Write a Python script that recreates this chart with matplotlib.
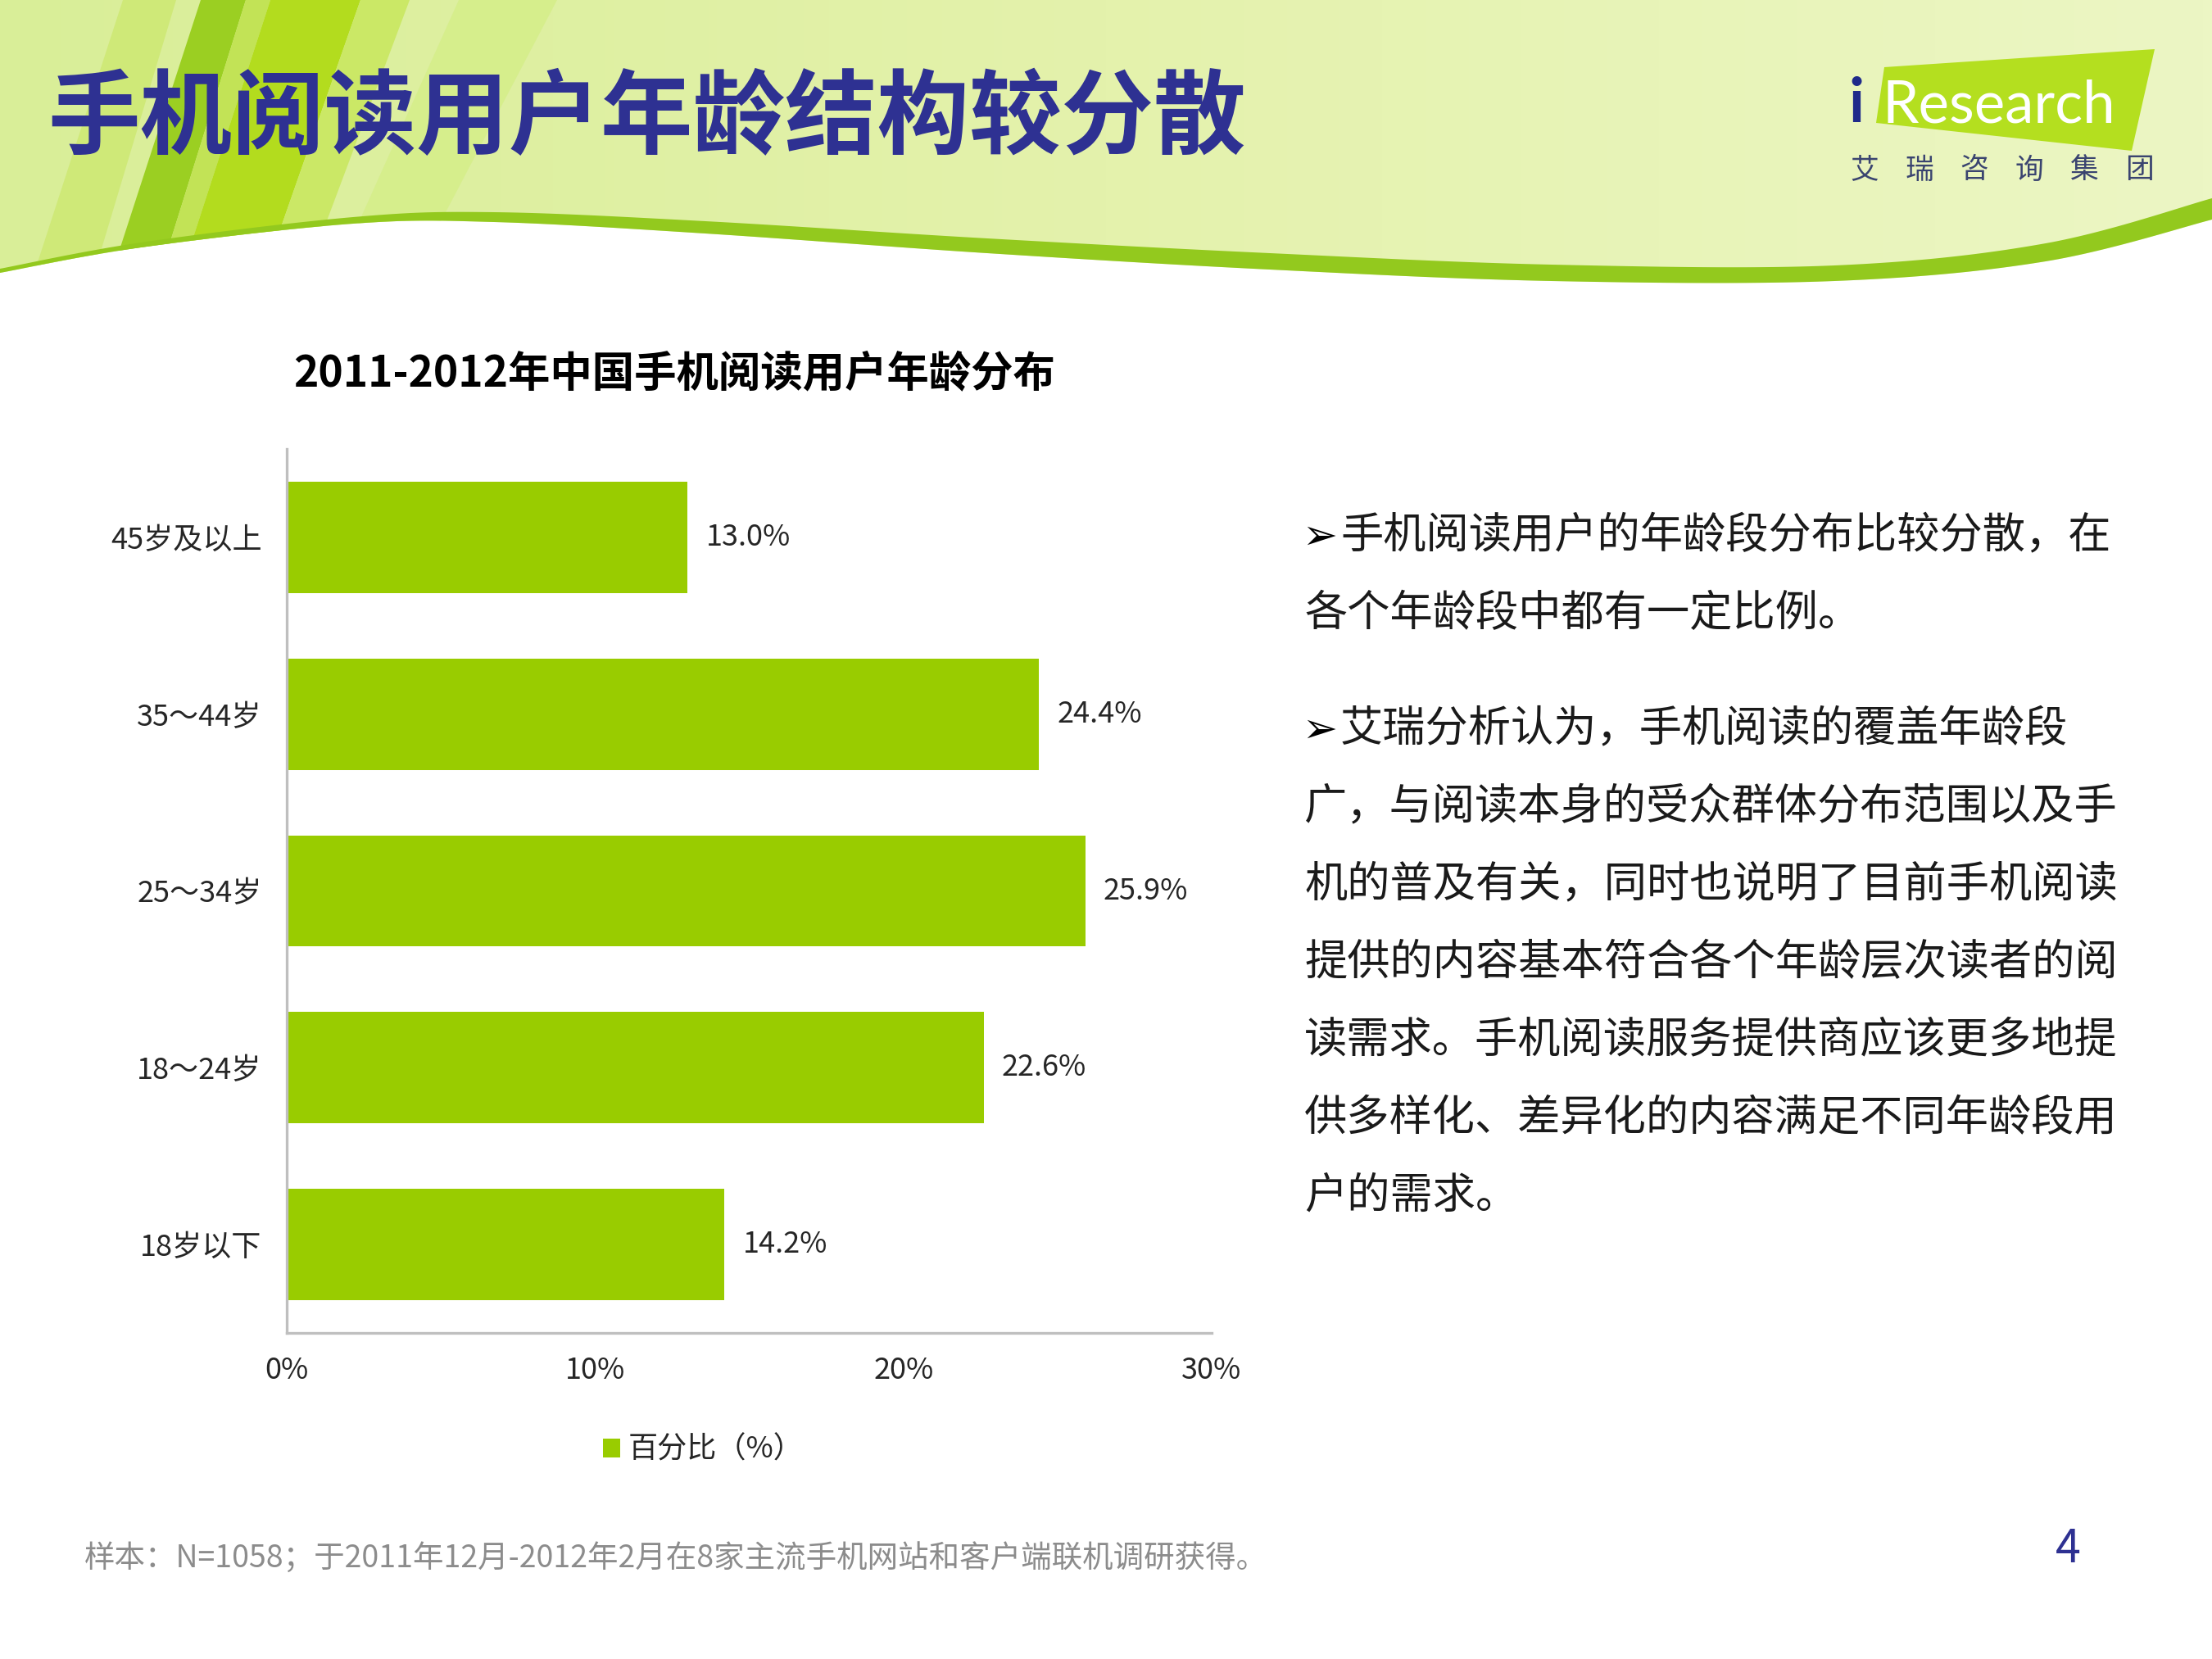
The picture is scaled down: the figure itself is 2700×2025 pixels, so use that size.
import matplotlib
matplotlib.use('Agg')

import numpy as np
import matplotlib.pyplot as plt
from matplotlib.patches import Polygon
from matplotlib.colors import LinearSegmentedColormap

plt.rcParams['font.family'] = ['Noto Sans CJK SC', 'DejaVu Sans']

# data, bottom to top as drawn
age_groups = ['18岁以下', '18～24岁', '25～34岁', '35～44岁', '45岁及以上']
share_pct = [14.2, 22.6, 25.9, 24.4, 13.0]
x_ticks = [0, 10, 20, 30]
x_tick_labels = ['0%', '10%', '20%', '30%']

slide_title = '手机阅读用户年龄结构较分散'
chart_title = '2011-2012年中国手机阅读用户年龄分布'
legend_label = '百分比（%）'
note_lines = [
    ['手机阅读用户的年龄段分布比较分散，在',
     '各个年龄段中都有一定比例。'],
    ['艾瑞分析认为，手机阅读的覆盖年龄段',
     '广，与阅读本身的受众群体分布范围以及手',
     '机的普及有关，同时也说明了目前手机阅读',
     '提供的内容基本符合各个年龄层次读者的阅',
     '读需求。手机阅读服务提供商应该更多地提',
     '供多样化、差异化的内容满足不同年龄段用',
     '户的需求。'],
]
source_note = '样本：N=1058；于2011年12月-2012年2月在8家主流手机网站和客户端联机调研获得。'
page_no = '4'

W, H = 2700, 2025
fig = plt.figure(figsize=(13.5, 10.125), dpi=200)
fig.patch.set_facecolor('white')


def smooth(pts, n=30):
    # catmull-rom through the given points
    p = np.array(pts, dtype=float)
    p = np.vstack([p[0], p, p[-1]])
    out = []
    for i in range(1, len(p) - 2):
        p0, p1, p2, p3 = p[i - 1], p[i], p[i + 1], p[i + 2]
        for t in np.linspace(0, 1, n, endpoint=False):
            t2, t3 = t * t, t * t * t
            out.append(0.5 * ((2 * p1) + (-p0 + p2) * t +
                              (2 * p0 - 5 * p1 + 4 * p2 - p3) * t2 +
                              (-p0 + 3 * p1 - 3 * p2 + p3) * t3))
    out.append(p[-2])
    return np.array(out)


# ---- slide background (pixel coordinates) ----
bg = fig.add_axes([0, 0, 1, 1], zorder=0)
bg.set_xlim(0, W)
bg.set_ylim(H, 0)
bg.axis('off')

edge = smooth([(0, 333), (172, 302), (431, 273), (603, 271), (861, 285),
               (1205, 309), (1550, 329), (1894, 343), (2239, 343),
               (2497, 319), (2700, 268)])
band_top = smooth([(0, 328), (172, 296), (431, 265), (603, 259), (861, 270),
                   (1205, 291), (1550, 309), (1894, 323), (2239, 324),
                   (2497, 297), (2700, 242)])

header = Polygon(np.vstack([[(0, 0), (W, 0)], edge[::-1]]), closed=True,
                 facecolor='none', edgecolor='none')
bg.add_patch(header)
grad = LinearSegmentedColormap.from_list('hdr', ['#d9ee98', '#e4f2ac', '#ecf6c4'])
im = bg.imshow(np.linspace(0, 1, 256)[None, :], cmap=grad, aspect='auto',
               extent=(0, W, 400, 0), zorder=0)
im.set_clip_path(header)

stripes = [
    ([(150, 0), (215, 0), (95, 400), (20, 400)], '#cfe978'),
    ([(245, 0), (300, 0), (175, 400), (115, 400)], '#9bcf22'),
    ([(300, 0), (330, 0), (200, 400), (175, 400)], '#c2e356'),
    ([(330, 0), (440, 0), (300, 400), (200, 400)], '#b3dc1e'),
    ([(440, 0), (500, 0), (350, 400), (300, 400)], '#cbe866'),
    ([(560, 0), (680, 0), (470, 400), (380, 400)], '#d6ee8c'),
]
for pts, col in stripes:
    s = Polygon(pts, closed=True, facecolor=col, edgecolor='none', zorder=1)
    bg.add_patch(s)
    s.set_clip_path(header)

band = Polygon(np.vstack([band_top, edge[::-1]]), closed=True,
               facecolor='#93c91e', edgecolor='none', zorder=2)
bg.add_patch(band)

# logo
bg.add_patch(Polygon([(2300, 82), (2630, 60), (2602, 184), (2290, 150)],
                     closed=True, facecolor='#b4df1f', edgecolor='none', zorder=3))
bg.text(2266, 149, 'i', fontsize=27, fontweight='bold', color='#1f2a8a',
        family=['Lato', 'DejaVu Sans'], ha='center', va='baseline', zorder=4)
bg.text(2298, 149, 'Research', fontsize=25.5, color='white',
        family=['Lato', 'DejaVu Sans'], ha='left', va='baseline', zorder=4)
for i, ch in enumerate('艾瑞咨询集团'):
    bg.text(2276 + i * 67, 208, ch, fontsize=12.5, color='#3a4470',
            ha='center', va='center', zorder=4)

bg.text(58, 146, slide_title, fontsize=40.5, fontweight='bold', color='#2e3192',
        ha='left', va='center', zorder=4)

bg.text(358, 456, chart_title, fontsize=18.5, fontweight='bold', color='black',
        ha='left', va='center')

# right-hand notes
y = 654
for para in note_lines:
    for k, line in enumerate(para):
        if k == 0:
            bg.text(1589, y + 2, '➢', fontsize=18.5, color='black',
                    family=['DejaVu Sans'], ha='left', va='center')
            bg.text(1636, y, line, fontsize=18.8, color='#1a1a1a',
                    ha='left', va='center')
        else:
            bg.text(1592, y, line, fontsize=18.8, color='#1a1a1a',
                    ha='left', va='center')
        y += 95
    y += 46

bg.text(103, 1903, source_note, fontsize=13.5, color='#8c8c8c',
        ha='left', va='center')
bg.text(2524, 1891, page_no, fontsize=20, color='#2e3192',
        ha='center', va='center')

# ---- bar chart ----
ax = fig.add_axes([350 / W, 1 - 1627 / H, 1129 / W, 1079 / H], zorder=1)
ax.patch.set_alpha(0)
pos = np.arange(len(age_groups))
bars = ax.barh(pos, share_pct, height=0.63, color='#99cc00', label=legend_label)
ax.bar_label(bars, labels=[f'{v:.1f}%' for v in share_pct], padding=8,
             fontsize=13, color='#262626')

ax.set_xlim(0, 30)
ax.set_ylim(-0.5, 4.5)
ax.set_xticks(x_ticks)
ax.set_xticklabels(x_tick_labels)
ax.set_yticks(pos)
ax.set_yticklabels(age_groups)
ax.tick_params(axis='x', length=0, pad=10, labelsize=13, labelcolor='#262626')
ax.tick_params(axis='y', length=0, pad=11, labelsize=13, labelcolor='#262626')
for side in ['top', 'right']:
    ax.spines[side].set_visible(False)
for side in ['left', 'bottom']:
    ax.spines[side].set_color('#bfbfbf')
    ax.spines[side].set_linewidth(1.2)

ax.legend(loc='center', bbox_to_anchor=(0.45, -0.1325), frameon=False,
          fontsize=13, handlelength=0.6, handleheight=0.6, handletextpad=0.25,
          labelcolor='#262626')

plt.savefig('out.png', dpi=200)
